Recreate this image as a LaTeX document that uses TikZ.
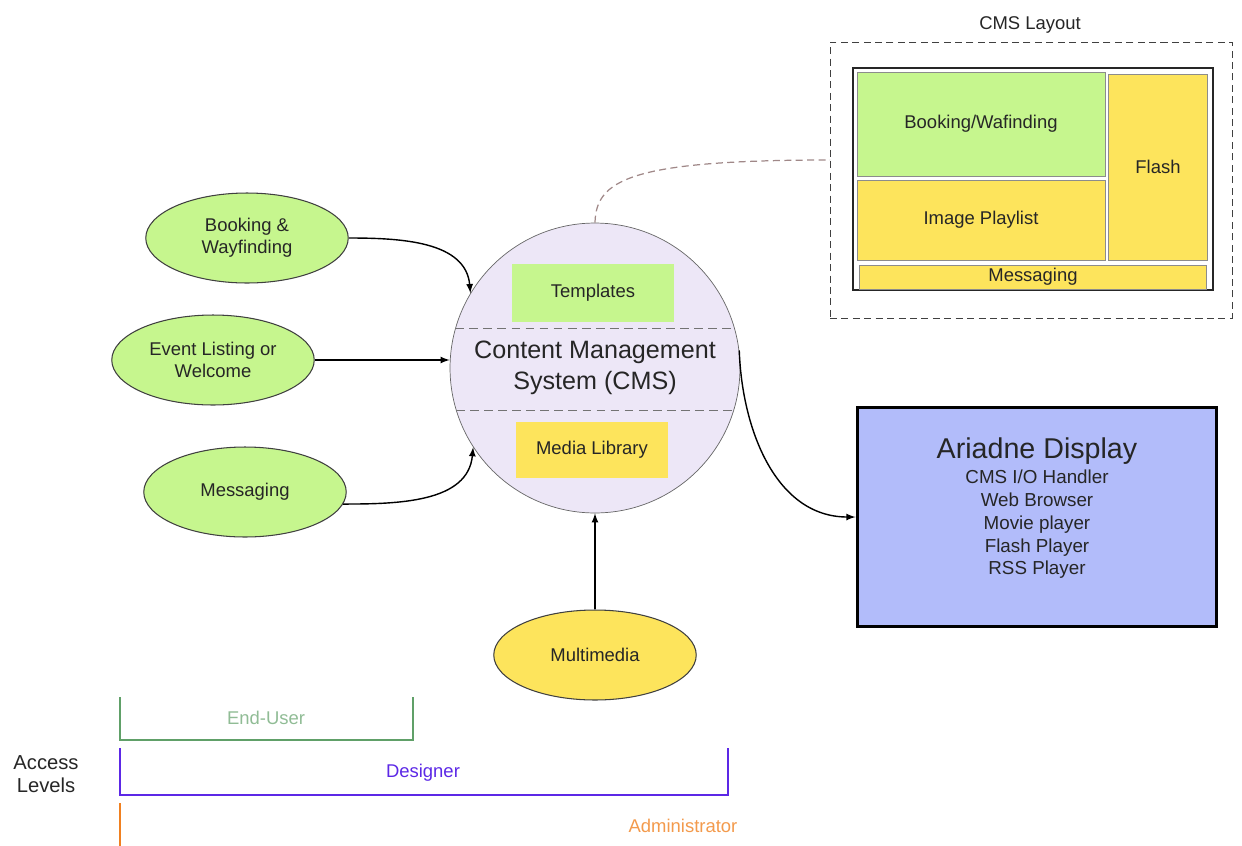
\documentclass[tikz,border=0pt]{standalone}
\usepackage{fontspec}
\setmainfont{Liberation Sans}
\usetikzlibrary{shapes.geometric}
\definecolor{leafgreen}{RGB}{198,246,142}
\definecolor{sunyellow}{RGB}{253,228,92}
\definecolor{cmslilac}{RGB}{237,231,247}
\definecolor{displayblue}{RGB}{178,188,250}
\definecolor{linkgrey}{RGB}{160,136,136}
\definecolor{enduser}{RGB}{96,160,104}
\definecolor{designer}{RGB}{92,40,230}
\definecolor{admin}{RGB}{240,128,32}
\begin{document}
\begin{tikzpicture}[x=0.02cm,y=-0.02cm]
\tikzstyle{every node}+=[inner sep=0pt, align=center, text=black!85, font=\fontsize{10.5}{12.5}\selectfont]
\tikzstyle{source}=[ellipse, draw=black!75, line width=0.6pt, fill=leafgreen, minimum width=4.05cm, minimum height=1.8cm]
\tikzstyle{link}=[-latex, line width=0.8pt]
\tikzstyle{cell}=[draw=black!45, line width=0.5pt]
\tikzstyle{level}=[line width=1.2pt]
\useasboundingbox (0,0) rectangle (1242,846);
\node [circle, draw=black!60, fill=cmslilac, minimum size=5.8cm, font=\fontsize{14.3}{18}\selectfont] (cms) at (595,368) {Content Management\\System (CMS)};
\draw [black!55, dash pattern=on 5pt off 3pt] (cms.164.8) -- (cms.164.8 -| cms.15.2);
\draw [black!55, dash pattern=on 5pt off 3pt] (cms.197.7) -- (cms.197.7 -| cms.-17.7);
\node [fill=leafgreen, minimum width=3.26cm, minimum height=1.16cm] (templates) at (593,293) {Templates};
\node [fill=sunyellow, minimum width=3.04cm, minimum height=1.12cm] (medialib) at (592,450) {Media Library};
\node [source] (booking) at (247,238) {Booking \&\\Wayfinding};
\node [source] (event) at (213,360) {Event Listing or\\Welcome};
\node [source] (messaging) at (245,492) {Messaging};
\node [source, fill=sunyellow] (multimedia) at (595,655) {Multimedia};
\node [draw=black!75, dash pattern=on 4pt off 2.5pt, minimum width=8.04cm, minimum height=5.52cm] (layout) at (1031,180) {};
\node (layouttitle) at (1030,25) {CMS Layout};
\node [draw=black!85, line width=1.1pt, fill=white, minimum width=7.2cm, minimum height=4.44cm] (frame) at (1033,179) {};
\node [cell, fill=leafgreen, minimum width=4.96cm, minimum height=2.08cm] (bookcell) at (981,124) {Booking/Wafinding};
\node [cell, fill=sunyellow, minimum width=4.96cm, minimum height=1.6cm] (imagecell) at (981,220) {Image Playlist};
\node [cell, fill=sunyellow, minimum width=1.98cm, minimum height=3.72cm] (flashcell) at (1158,167) {Flash};
\node [cell, fill=sunyellow, minimum width=6.94cm, minimum height=0.48cm] (msgcell) at (1033,277) {Messaging};
\coordinate (layoutin) at (830,160);
\draw [linkgrey, line width=0.7pt, dash pattern=on 4pt off 2.5pt] (cms.north) .. controls (596,180) and (630,160) .. (layoutin);
\node [draw=black, line width=1.7pt, fill=displayblue, minimum width=7.2cm, minimum height=4.4cm] (display) at (1037,517) {};
\node [font=\fontsize{10.7}{13}\selectfont] (displaytext) at (1037,508) {{\fontsize{16.3}{18}\selectfont Ariadne Display}\\[1.5pt]CMS I/O Handler\\Web Browser\\Movie player\\Flash Player\\RSS Player};
\draw [link] (booking.east) to[out=0, in=95] (cms.149);
\draw [link] (event.east) -- (event.east -| cms.west);
\draw [link] (messaging.-7) to[out=0, in=-95] (cms.213);
\draw [link] (multimedia.north) -- (cms.south);
\draw [link] (cms.7) to[out=-88, in=180] (display.west);
\node [font=\fontsize{11.5}{13.5}\selectfont] (access) at (46,774) {Access\\Levels};
\draw [level, enduser] (120,697) -- (120,740) -- (413,740) -- (413,697);
\node [text=enduser!70] (endlabel) at (266,718) {End-User};
\draw [level, designer] (120,748) -- (120,795) -- (728,795) -- (728,748);
\node [text=designer] (designerlabel) at (423,773) {Designer};
\draw [level, admin] (120,803) -- (120,846);
\node [text=admin!80] (adminlabel) at (683,826) {Administrator};
\end{tikzpicture}
\end{document}
